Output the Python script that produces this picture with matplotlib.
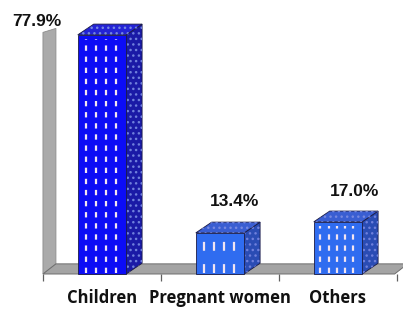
import numpy as np
import matplotlib.pyplot as plt
from matplotlib.patches import Polygon, Rectangle

# data
categories = ['Children', 'Pregnant women', 'Others']
values = [77.9, 13.4, 17.0]
value_labels = ['77.9%', '13.4%', '17.0%']

# layout / style constants
BAR_W = 0.41          # front face width (category units)
DX, DY = 0.135, 3.5   # bar depth offset
FDX, FDY = 0.11, 3.3  # floor / wall depth offset
WALL_TOP = 80.0
front_cols = ['#0c0cf6', '#2f6cf0', '#2f6cf0']
side_cols = ['#1a1aa6', '#2a4cb4', '#2a4cb4']
top_cols = ['#2323d6', '#3a5ed2', '#3a5ed2']
dash_step = [0.085, 0.085, 0.07]   # spacing of the white dashes
label_off = [(-65, 13), (15, 31), (17, 30)]  # value label offsets, px

fig = plt.figure(figsize=(4.03, 3.09), dpi=100)
ax = fig.add_axes([0, 0, 1, 1])
ax.set_xlim(-0.864, 2.551)
ax.set_ylim(-11.4, 89.25)
ax.axis('off')

n = len(categories)
x0, x1 = -0.5, n - 0.5

# left wall
wall = Polygon([(x0, 0), (x0 + FDX, FDY), (x0 + FDX, WALL_TOP), (x0, WALL_TOP - 1.3)],
               closed=True, facecolor='#aaaaaa', edgecolor='#8c8c8c', lw=0.6, zorder=1)
ax.add_patch(wall)
# floor
floor = Polygon([(x0, 0), (x1 - 0.02, 0), (x1 - 0.02 + FDX, FDY), (x0 + FDX, FDY)],
                closed=True, facecolor='#a4a4a4', edgecolor='#6e6e6e', lw=0.7, zorder=1)
ax.add_patch(floor)
# category ticks under floor
ax.vlines(np.arange(n + 1) - 0.5, -2.3, 0, color='#606060', lw=0.9, zorder=1)

for i, v in enumerate(values):
    L = i - BAR_W / 2
    R = i + BAR_W / 2
    # side face
    side = [(R, 0), (R + DX, DY), (R + DX, v + DY), (R, v)]
    ax.add_patch(Polygon(side, closed=True, facecolor=side_cols[i], edgecolor='#1b1b45', lw=0.6, zorder=3))
    ax.add_patch(Polygon(side, closed=True, facecolor='none', edgecolor='#6f80dc', lw=0, hatch='...', zorder=3))
    # top face
    top = [(L, v), (R, v), (R + DX, v + DY), (L + DX, v + DY)]
    ax.add_patch(Polygon(top, closed=True, facecolor=top_cols[i], edgecolor='#1b1b45', lw=0.6, zorder=3))
    ax.add_patch(Polygon(top, closed=True, facecolor='none', edgecolor='#7688e0', lw=0, hatch='...', zorder=3))
    # front face
    front = Rectangle((L, 0), BAR_W, v, facecolor=front_cols[i], edgecolor='#1b1b45', lw=0.6, zorder=4)
    ax.add_patch(front)
    xs = np.arange(L + dash_step[i] * 0.8, R - 0.02, dash_step[i])
    dl = ax.vlines(xs, 0.3, v - 1.5, colors='#f2e4f0', lw=1.6,
                   linestyles=(0, (2.4, 2.6)) if i != 1 else (0, (4, 6)), zorder=5)
    dl.set_clip_path(front)
    # value label
    ax.annotate(value_labels[i], (i, v), xytext=label_off[i], textcoords='offset pixels',
                ha='center', va='center', fontsize=12.5, fontweight='bold',
                family='Liberation Sans', color='#111111', zorder=6)
    # category label
    ax.text(i, -7.8, categories[i], ha='center', va='center', fontsize=12,
            fontweight='bold', family='Open Sans', color='#111111')

fig.savefig('out.png', dpi=100, facecolor='white')
